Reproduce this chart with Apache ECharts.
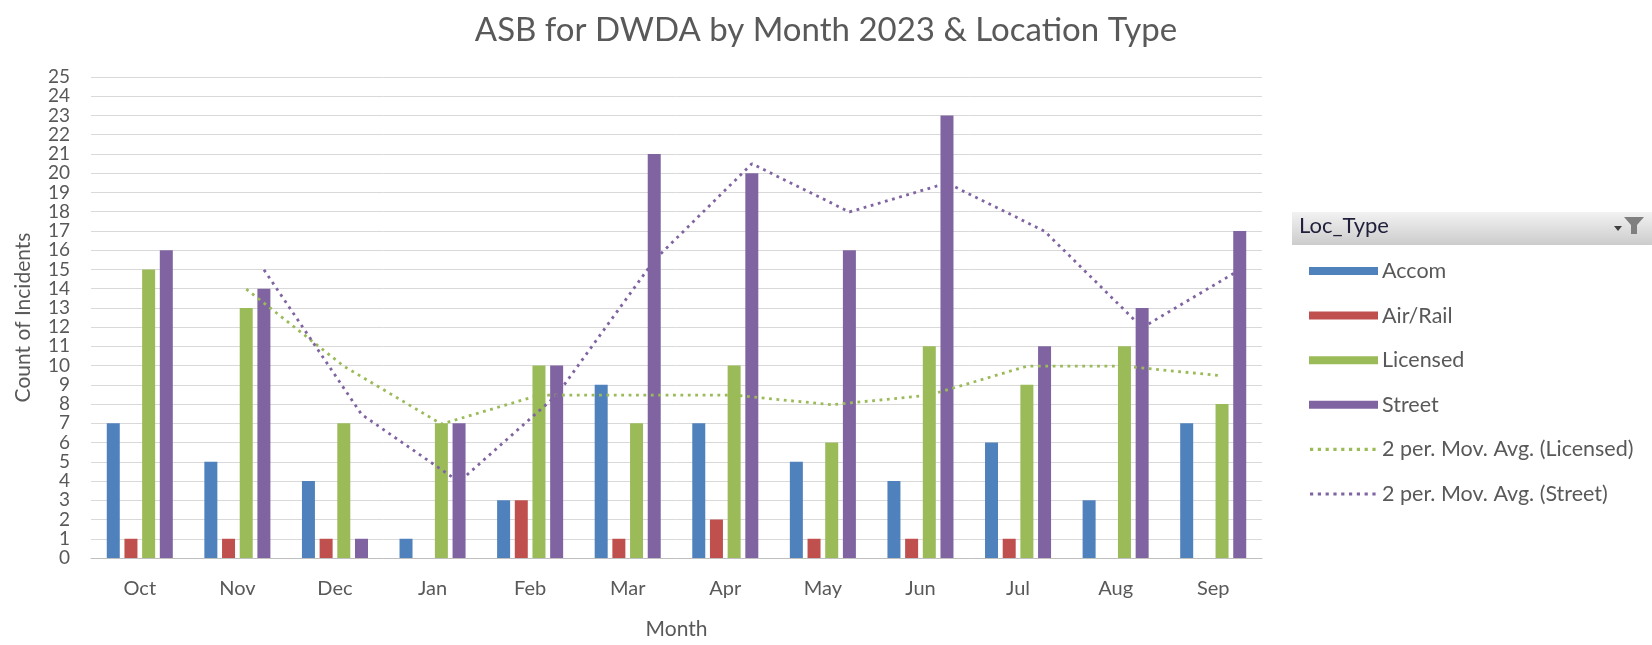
<!DOCTYPE html>
<html>
<head>
<meta charset="utf-8">
<script src="https://cdn.jsdelivr.net/npm/echarts@6/dist/echarts.min.js"></script>
<style>
html,body{margin:0;padding:0;background:#fff;}
#chart{width:1652px;height:645px;}
</style>
</head>
<body>
<div id="chart"></div>
<script>
const months = ['Oct','Nov','Dec','Jan','Feb','Mar','Apr','May','Jun','Jul','Aug','Sep'];
const accom    = [7, 5, 4, 1, 3, 9, 7, 5, 4, 6, 3, 7];
const airRail  = [1, 1, 1, 0, 3, 1, 2, 1, 1, 1, 0, 0];
const licensed = [15, 13, 7, 7, 10, 7, 10, 6, 11, 9, 11, 8];
const street   = [16, 14, 1, 7, 10, 21, 20, 16, 23, 11, 13, 17];
const licensedMA = [null, 14, 10, 7, 8.5, 8.5, 8.5, 8, 8.5, 10, 10, 9.5];
const streetMA   = [null, 15, 7.5, 4, 8.5, 15.5, 20.5, 18, 19.5, 17, 12, 15];
const yTicks = {min: 0, max: 25, interval: 1};

const FONT = 'Lato';
const TXT = '#595959';
const C = {accom:'#4F81BD', air:'#C0504D', lic:'#9BBB59', st:'#8064A2'};

const L = 91, R = 390, T = 77, B = 86;
const offLic = 8.9, offSt = 26.6;

function dotsPath() {
  let p = 'path://M0,0 M69,8';
  for (let i = 0; i < 9; i++) {
    const x = 1 + i * 7.8;
    p += ' M' + x + ',2.4 h3.2 v3.2 h-3.2 z';
  }
  return p;
}

const chart = echarts.init(document.getElementById('chart'));
const hiddenX = (g) => ({type:'category', data: months, gridIndex: g, show:false, boundaryGap:true});
const hiddenY = (g) => ({type:'value', gridIndex: g, show:false, min: yTicks.min, max: yTicks.max, interval: yTicks.interval});

const option = {
  animation: false,
  backgroundColor: '#fff',
  title: {
    text: 'ASB for DWDA by Month 2023 & Location Type',
    left: 'center', top: 9,
    textStyle: {fontFamily: FONT, fontSize: 33, fontWeight: 'normal', color: TXT}
  },
  grid: [
    {left: L, right: R, top: T, bottom: B},
    {left: L + offLic, right: R - offLic, top: T, bottom: B},
    {left: L + offSt, right: R - offSt, top: T, bottom: B}
  ],
  xAxis: [
    {
      type: 'category', data: months, gridIndex: 0,
      name: 'Month', nameLocation: 'middle', nameGap: 61,
      nameTextStyle: {fontFamily: FONT, fontSize: 21, color: TXT},
      axisLine: {lineStyle: {color: '#BFBFBF', width: 1}},
      axisTick: {show: false},
      axisLabel: {fontFamily: FONT, fontSize: 20, color: TXT, margin: 21}
    },
    hiddenX(1), hiddenX(2)
  ],
  yAxis: [
    {
      type: 'value', gridIndex: 0,
      min: yTicks.min, max: yTicks.max, interval: yTicks.interval,
      name: 'Count of Incidents', nameLocation: 'middle', nameGap: 57,
      nameTextStyle: {fontFamily: FONT, fontSize: 21, color: TXT},
      axisLine: {show: false}, axisTick: {show: false},
      axisLabel: {fontFamily: FONT, fontSize: 19, color: TXT, margin: 21, showMinLabel: true, showMaxLabel: true},
      splitLine: {lineStyle: {color: '#D9D9D9', width: 1}}
    },
    hiddenY(1), hiddenY(2)
  ],
  legend: {
    orient: 'vertical',
    left: 1304, top: 254,
    itemWidth: 69, itemHeight: 8, itemGap: 20.6,
    textStyle: {fontFamily: FONT, fontSize: 21.5, color: TXT, lineHeight: 24, padding: [0,0,0,-1]},
    data: [
      {name: 'Accom', icon: 'rect'},
      {name: 'Air/Rail', icon: 'rect'},
      {name: 'Licensed', icon: 'rect'},
      {name: 'Street', icon: 'rect'},
      {name: '2 per. Mov. Avg. (Licensed)', icon: dotsPath()},
      {name: '2 per. Mov. Avg. (Street)', icon: dotsPath()}
    ]
  },
  graphic: [
    {
      type: 'rect', left: 1292, top: 212, z: 10,
      shape: {width: 360, height: 33},
      style: {
        fill: new echarts.graphic.LinearGradient(0, 0, 0, 1, [
          {offset: 0, color: '#F2F2F2'}, {offset: 1, color: '#CCCCCC'}
        ])
      }
    },
    {
      type: 'text', left: 1299, top: 215, z: 11,
      style: {text: 'Loc_Type', fontFamily: FONT, fontSize: 22, fill: '#1F1F3A'}
    },
    {
      type: 'polygon', z: 11,
      shape: {points: [[1614,226],[1622,226],[1618,231]]},
      style: {fill: '#404040'}
    },
    {
      type: 'polygon', z: 11,
      shape: {points: [[1624,217],[1644,217],[1637,225],[1637,234],[1631,234],[1631,225]]},
      style: {fill: '#7F7F7F'}
    }
  ],
  series: [
    {name:'Accom', type:'bar', data: accom, barWidth: 13, barGap: '36%', itemStyle:{color: C.accom}},
    {name:'Air/Rail', type:'bar', data: airRail, barWidth: 13, barGap: '36%', itemStyle:{color: C.air}},
    {name:'Licensed', type:'bar', data: licensed, barWidth: 13, barGap: '36%', itemStyle:{color: C.lic}},
    {name:'Street', type:'bar', data: street, barWidth: 13, barGap: '36%', itemStyle:{color: C.st}},
    {
      name:'2 per. Mov. Avg. (Licensed)', type:'line', xAxisIndex: 1, yAxisIndex: 1,
      data: licensedMA, symbol:'none', z: 5,
      itemStyle: {color: C.lic},
      lineStyle: {color: C.lic, width: 2.8, type: [2.8, 4.6], cap: 'butt'}
    },
    {
      name:'2 per. Mov. Avg. (Street)', type:'line', xAxisIndex: 2, yAxisIndex: 2,
      data: streetMA, symbol:'none', z: 5,
      itemStyle: {color: C.st},
      lineStyle: {color: C.st, width: 2.8, type: [2.8, 4.6], cap: 'butt'}
    }
  ]
};
chart.setOption(option);
</script>
</body>
</html>
